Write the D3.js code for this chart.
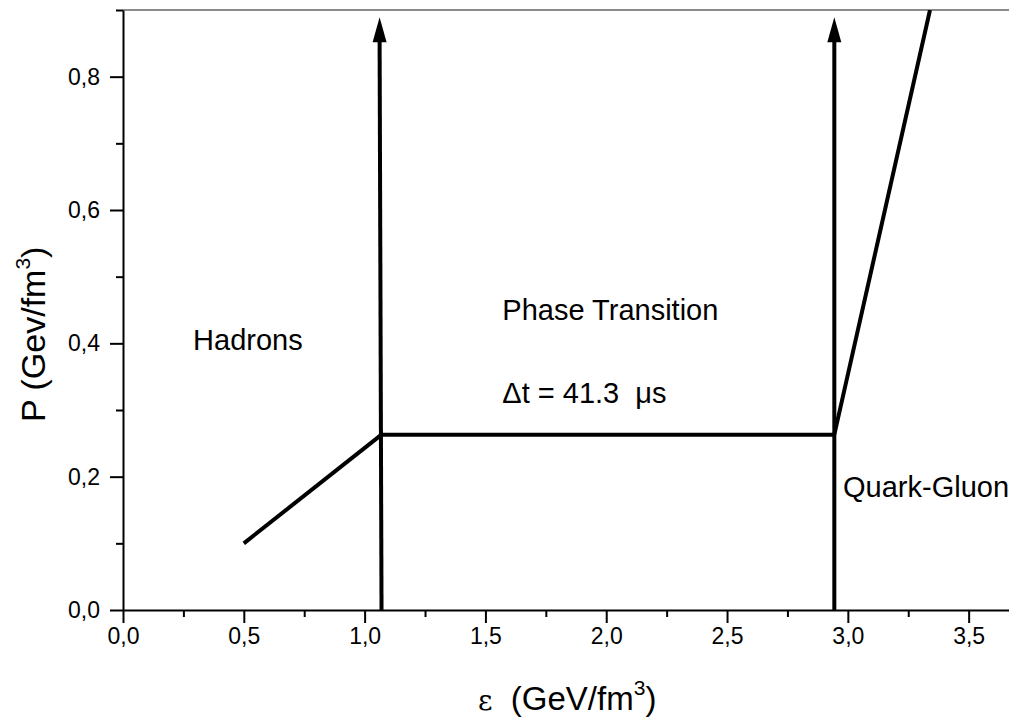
<!DOCTYPE html>
<html>
<head>
<meta charset="utf-8">
<script src="https://cdn.jsdelivr.net/npm/d3@7"></script>
<style>
  body { margin: 0; background: #fff; }
  text { font-family: Arial, "Liberation Sans", sans-serif; fill: #000; white-space: pre; }
</style>
</head>
<body>
<div id="chart"></div>
<script>
let w = 1009;
let h = 721;
let margin = ({top: 10, right: 0, bottom: 111, left: 123});

// equation of state P(eps)
let hadronEps = [0.5, 1.07];
let hadronP = [0.1, 0.263];
let mixedEps = [1.07, 2.944];
let mixedP = [0.263, 0.263];
let qgpEps = [2.944, 3.34];
let qgpP = [0.263, 0.9];

// the two vertical arrows (bottom x, top x, tip P)
let arrowEpsBottom = [1.07, 2.944];
let arrowEpsTop = [1.062, 2.944];
let arrowTip = 0.889;

let xMajor = [0, 0.5, 1.0, 1.5, 2.0, 2.5, 3.0, 3.5];
let xMinor = [0.25, 0.75, 1.25, 1.75, 2.25, 2.75, 3.25];
let yMajor = [0, 0.2, 0.4, 0.6, 0.8];
let yMinor = [0.1, 0.3, 0.5, 0.7, 0.9];

let labels = [
  {text: "Hadrons", eps: 0.29, p: 0.39},
  {text: "Phase Transition", eps: 1.57, p: 0.435},
  {text: "Δt = 41.3  μs", eps: 1.57, p: 0.31},
  {text: "Quark-Gluon", eps: 2.98, p: 0.17}
];

let svg = d3.select("#chart").append("svg")
  .attr("width", w)
  .attr("height", h)
  .style("background-color", "white");

let xScale = d3.scaleLinear().domain([0, 3.667]).range([margin.left, w - margin.right]);
let yScale = d3.scaleLinear().domain([0, 0.9]).range([h - margin.bottom, margin.top]);

let comma = d3.formatLocale({decimal: ",", thousands: ".", grouping: [3], currency: ["", ""]}).format(".1f");

svg.append("defs").append("clipPath").attr("id", "plotclip")
  .append("rect")
  .attr("x", margin.left).attr("y", margin.top)
  .attr("width", w - margin.left - margin.right)
  .attr("height", h - margin.top - margin.bottom);

// top frame line
svg.append("line")
  .attr("x1", margin.left).attr("x2", w)
  .attr("y1", margin.top).attr("y2", margin.top)
  .attr("stroke", "#666").attr("stroke-width", 1.5);

// axes
svg.append("g")
  .attr("transform", "translate(0," + (h - margin.bottom) + ")")
  .call(d3.axisBottom(xScale).tickValues(xMajor).tickFormat(comma).tickSize(13).tickPadding(5).tickSizeOuter(0));
svg.append("g")
  .attr("transform", "translate(0," + (h - margin.bottom) + ")")
  .call(d3.axisBottom(xScale).tickValues(xMinor).tickFormat("").tickSize(7).tickSizeOuter(0))
  .call(g => g.select(".domain").remove());

svg.append("g")
  .attr("transform", "translate(" + margin.left + ",0)")
  .call(d3.axisLeft(yScale).tickValues(yMajor).tickFormat(comma).tickSize(13).tickPadding(10).tickSizeOuter(0));
svg.append("g")
  .attr("transform", "translate(" + margin.left + ",0)")
  .call(d3.axisLeft(yScale).tickValues(yMinor).tickFormat("").tickSize(7).tickSizeOuter(0))
  .call(g => g.select(".domain").remove());

svg.selectAll(".domain").attr("stroke", "#000").attr("stroke-width", 2);
svg.selectAll(".tick line").attr("stroke", "#000").attr("stroke-width", 2);
svg.selectAll(".tick text").style("font-size", "23px").attr("fill", "#000");

// data lines
let plot = svg.append("g").attr("clip-path", "url(#plotclip)");
let line = d3.line().x(d => xScale(d[0])).y(d => yScale(d[1]));
let segments = [
  d3.zip(hadronEps, hadronP),
  d3.zip(mixedEps, mixedP),
  d3.zip(qgpEps, qgpP)
];
plot.selectAll(".seg").data(segments).enter()
  .append("path")
  .attr("class", "seg")
  .attr("d", line)
  .attr("fill", "none")
  .attr("stroke", "#000")
  .attr("stroke-width", 4);

// arrows
let arrows = d3.zip(arrowEpsBottom, arrowEpsTop);
let headLen = 25, headHalf = 7;
plot.selectAll(".arrowline").data(arrows).enter()
  .append("line")
  .attr("x1", d => xScale(d[0])).attr("y1", yScale(0))
  .attr("x2", d => xScale(d[1])).attr("y2", yScale(arrowTip) + headLen - 2)
  .attr("stroke", "#000").attr("stroke-width", 4);
plot.selectAll(".arrowhead").data(arrows).enter()
  .append("path")
  .attr("d", d => {
    let x = xScale(d[1]), y = yScale(arrowTip);
    return "M" + x + "," + y + "L" + (x + headHalf) + "," + (y + headLen) + "L" + (x - headHalf) + "," + (y + headLen) + "Z";
  })
  .attr("fill", "#000");

// annotations
svg.selectAll(".note").data(labels).enter()
  .append("text")
  .attr("class", "note")
  .attr("x", d => xScale(d.eps))
  .attr("y", d => yScale(d.p))
  .style("font-size", "29px")
  .text(d => d.text);

// axis titles
let xt = svg.append("text")
  .attr("x", 478).attr("y", 710)
  .style("font-size", "33px");
xt.append("tspan").style("font-family", "'DejaVu Serif', serif").style("font-size", "28px").text("ε");
xt.append("tspan").text("  (GeV/fm");
xt.append("tspan").attr("dy", -15).style("font-size", "21px").text("3");
xt.append("tspan").attr("dy", 15).text(")");

let yt = svg.append("text")
  .attr("transform", "translate(45,422) rotate(-90)")
  .style("font-size", "34px");
yt.append("tspan").text("P (Gev/fm");
yt.append("tspan").attr("dy", -15).style("font-size", "21px").text("3");
yt.append("tspan").attr("dy", 15).text(")");
</script>
</body>
</html>
